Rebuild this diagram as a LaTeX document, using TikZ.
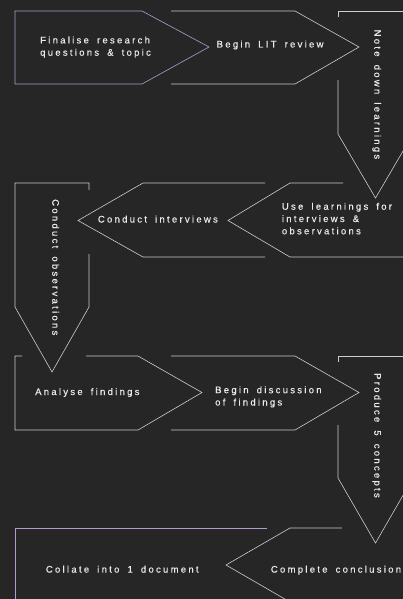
\documentclass[tikz,border=0pt]{standalone}
\usepackage{fontspec}
\newfontfamily\stagefont[LetterSpace=24,WordSpace=1.65,FakeBold=0.4]{Liberation Sans}
\definecolor{bgdark}{HTML}{262626}
\definecolor{edgegray}{HTML}{CDCDCD}
\definecolor{edgepurple}{HTML}{B39BCF}
\definecolor{textwhite}{HTML}{EAEAEA}
\tikzset{
  stage/.style={draw=edgegray, line width=0.6pt, line join=miter},
  endstage/.style={stage, draw=edgepurple},
  stagetext/.style={text=textwhite, inner sep=0pt, anchor=base west, align=left,
    font=\stagefont\fontsize{9.5}{12.3}\selectfont},
  sidetext/.style={stagetext, rotate=-90},
}
\begin{document}
\begin{tikzpicture}[x=1pt,y=-1pt]
  \fill[bgdark] (0,0) rectangle (403,599);
  \useasboundingbox (0,0) rectangle (403,599);
  \clip (0,0) rectangle (403,599);

  % row 1
  \draw[endstage] (15,11)--(142,11)--(209,47)--(142,84)--(15,84)--cycle;
  \draw[stage]    (171,11)--(295,11)--(359,47)--(295,84)--(171,84);
  \draw[stage]    (338,17)--(338,11)--(420,11);
  \draw[stage]    (338,80)--(338,134)--(375.5,198)--(413,134)--(413,80);

  % base anchor of a two-line node sits on its last line
  \node[stagetext] (finalise) at (40,55.7) {Finalise research\\questions \& topic};
  \node[stagetext] (litreview) at (216.5,47.5) {Begin LIT review};
  \node[sidetext]  (notedown) at (374.3,29.5) {Note down learnings};

  % row 2
  \draw[stage] (343,183)--(290,183)--(228,220.5)--(290,257)--(420,257);
  \draw[stage] (265,183)--(143,183)--(78,220.5)--(143,257)--(265,257);
  \draw[stage] (89,190)--(89,183)--(15,183)--(15,307)--(52,372)--(89,307)--(89,254);

  \node[stagetext] (uselearn) at (281.7,234.3) {Use learnings for\\interviews \&\\observations};
  \node[stagetext] (interviews) at (97.7,222.5) {Conduct interviews};
  \node[sidetext]  (observe) at (52.3,199) {Conduct observations};

  % row 3
  \draw[stage] (22,356)--(15,356)--(15,430)--(138,430)--(202,392.5)--(138,356)--(86,356);
  \draw[stage] (171,356)--(295,356)--(359,392.5)--(295,430)--(171,430);
  \draw[stage] (338,362)--(338,356)--(420,356);
  \draw[stage] (338,425)--(338,478)--(375.5,543)--(413,478)--(413,425);

  \node[stagetext] (analyse) at (35,395) {Analyse findings};
  \node[stagetext] (discuss) at (215,405.5) {Begin discussion\\of findings};
  \node[sidetext]  (concepts) at (374.3,373) {Produce 5 concepts};

  % row 4
  \draw[stage]    (342,528)--(290,528)--(226,565)--(290,602)--(420,602);
  \draw[endstage] (267,528)--(15,528)--(15,610);

  \node[stagetext] (collate) at (45.7,572.6) {Collate into 1 document};
  \node[stagetext] (conclude) at (270.7,572.6) {Complete conclusion};
\end{tikzpicture}
\end{document}
